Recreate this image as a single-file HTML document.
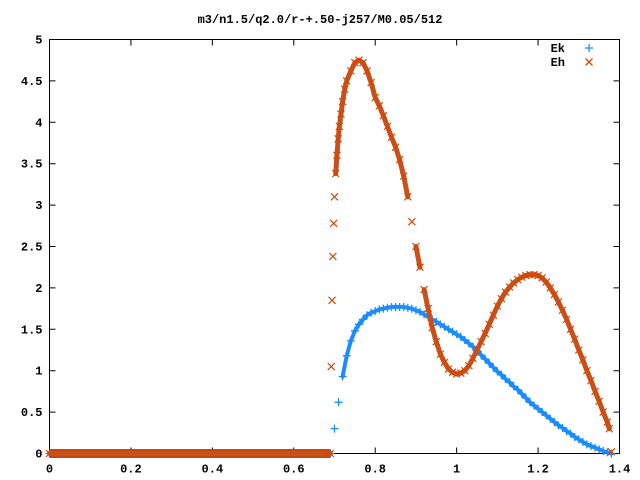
<!DOCTYPE html>
<html><head><meta charset="utf-8"><style>
html,body{margin:0;padding:0;background:#fff;}
svg{display:block;}
text{font-family:"Liberation Mono",monospace;font-size:12px;font-weight:bold;fill:#000;}
</style></head><body>
<svg id="chart" width="640" height="480" xmlns="http://www.w3.org/2000/svg">
<rect width="640" height="480" fill="#fff"/>
<text x="320" y="23" text-anchor="middle">m3/n1.5/q2.0/r-+.50-j257/M0.05/512</text>
<g id="axes"></g>
<g id="series"></g>
<g>
<text x="565" y="52" text-anchor="end">Ek</text>
<text x="565" y="66" text-anchor="end">Eh</text>
<path d="M585 48h8M589 44v8" stroke="#1a8cff" stroke-width="1.3"/>
<path d="M585.5 58.5l7 7M592.5 58.5l-7 7" stroke="#d04a0a" stroke-width="1.3"/>
</g>
</svg>
<script>
const xTicks = [0, 0.2, 0.4, 0.6, 0.8, 1, 1.2, 1.4];
const xTickLabels = ["0", "0.2", "0.4", "0.6", "0.8", "1", "1.2", "1.4"];
const yTicks = [0, 0.5, 1, 1.5, 2, 2.5, 3, 3.5, 4, 4.5, 5];
const yTickLabels = ["0", "0.5", "1", "1.5", "2", "2.5", "3", "3.5", "4", "4.5", "5"];
const ekX = [0,0.68,0.69,0.70,0.71,0.72,0.73,0.74,0.75,0.76,0.77,0.78,0.79,0.80,0.81,0.82,0.83,0.84,0.85,0.86,0.87,0.88,0.89,0.90,0.91,0.92,0.93,0.94,0.95,0.96,0.97,0.98,0.99,1.00,1.01,1.02,1.03,1.04,1.05,1.06,1.07,1.08,1.09,1.10,1.11,1.12,1.13,1.14,1.15,1.16,1.17,1.18,1.19,1.20,1.21,1.22,1.23,1.24,1.25,1.26,1.27,1.28,1.29,1.30,1.31,1.32,1.33,1.34,1.35,1.36,1.37,1.38];
const ekY = [0,0,0,0.3,0.62,0.93,1.18,1.36,1.48,1.56,1.62,1.67,1.7,1.72,1.74,1.75,1.76,1.77,1.77,1.77,1.77,1.76,1.75,1.73,1.71,1.68,1.65,1.62,1.59,1.56,1.53,1.5,1.47,1.44,1.41,1.37,1.33,1.29,1.24,1.19,1.14,1.09,1.04,0.99,0.95,0.9,0.86,0.81,0.77,0.72,0.67,0.62,0.58,0.54,0.5,0.46,0.42,0.38,0.34,0.31,0.27,0.24,0.2,0.17,0.14,0.11,0.09,0.07,0.05,0.03,0.015,0];
const ehX = [0,0.68,0.69,0.692,0.694,0.696,0.698,0.700,0.703,0.706,0.709,0.712,0.716,0.72,0.725,0.73,0.74,0.75,0.76,0.77,0.78,0.79,0.80,0.81,0.82,0.83,0.84,0.85,0.86,0.87,0.88,0.89,0.90,0.91,0.92,0.93,0.94,0.95,0.96,0.97,0.98,0.99,1.00,1.01,1.02,1.03,1.04,1.05,1.06,1.07,1.08,1.09,1.10,1.11,1.12,1.13,1.14,1.15,1.16,1.17,1.18,1.19,1.20,1.21,1.22,1.23,1.24,1.25,1.26,1.27,1.28,1.29,1.30,1.31,1.32,1.33,1.34,1.35,1.36,1.37,1.375,1.38];
const ehY = [0,0,0,1.05,1.85,2.38,2.78,3.1,3.38,3.6,3.8,3.95,4.1,4.25,4.4,4.5,4.62,4.72,4.75,4.72,4.62,4.48,4.3,4.2,4.08,3.95,3.82,3.7,3.55,3.35,3.1,2.8,2.5,2.25,1.98,1.75,1.52,1.35,1.2,1.1,1.02,0.98,0.96,0.97,1.0,1.06,1.15,1.25,1.35,1.45,1.56,1.67,1.78,1.87,1.95,2.01,2.06,2.1,2.13,2.15,2.16,2.16,2.15,2.12,2.07,2.0,1.92,1.83,1.73,1.62,1.5,1.38,1.25,1.13,1.0,0.88,0.75,0.63,0.5,0.38,0.3,0.02];

const L=49.5,R=619.5,T=39.5,B=453.5,X0=0,X1=1.4,Y0=0,Y1=5;
function sx(v){return L+(v-X0)/(X1-X0)*(R-L);}
function sy(v){return B-(v-Y0)/(Y1-Y0)*(B-T);}
const NS="http://www.w3.org/2000/svg";
function mk(tag,attrs,parent){const e=document.createElementNS(NS,tag);for(const k in attrs)e.setAttribute(k,attrs[k]);parent.appendChild(e);return e;}
const axes=document.getElementById('axes');
const frame=mk('rect',{x:L,y:T,width:R-L,height:B-T,fill:'none',stroke:'#000','stroke-width':1},axes);


xTicks.forEach((v,i)=>{
  const x=sx(v);
  const t=mk('path',{d:`M${x} ${B}v-6M${x} ${T}v6`,stroke:'#000','stroke-width':1},axes);
  
  
  const lb=mk('text',{x:x,y:B+19,'text-anchor':'middle'},axes);
  lb.textContent=xTickLabels[i];
  
  
});
yTicks.forEach((v,i)=>{
  const y=sy(v);
  const t=mk('path',{d:`M${L} ${y}h6M${R} ${y}h-6`,stroke:'#000','stroke-width':1},axes);
  
  
  const lb=mk('text',{x:L-7,y:y+4,'text-anchor':'end'},axes);
  lb.textContent=yTickLabels[i];
  
  
});
const g=document.getElementById('series');
function band(xs,ys,color,w,name){
  // connect only consecutive points that are close in value (dense marker band)
  let d='';
  for(let i=1;i<xs.length;i++){
    if(Math.abs(ys[i]-ys[i-1])>0.26) continue;
    d+=`M${sx(xs[i-1]).toFixed(1)} ${sy(ys[i-1]).toFixed(1)}L${sx(xs[i]).toFixed(1)} ${sy(ys[i]).toFixed(1)}`;
  }
  const p=mk('path',{d:d,fill:'none',stroke:color,'stroke-width':w,'stroke-linecap':'round','stroke-dasharray':'2 1'},g);
  
  
}
function zeroBand(xs,ys,color,w,name){
  let i=0;while(i<xs.length&&ys[i]===0)i++;
  const p=mk('path',{d:`M${sx(xs[0])} ${sy(0)}H${sx(xs[i-1])}`,stroke:color,'stroke-width':w},g);
  
  
}
zeroBand(ekX,ekY,'#1a8cff',8,'ek-zero-band');
band(ekX,ekY,'#1a8cff',4,'ek-band');
ekX.forEach((x,i)=>{
  const cx=sx(x),cy=sy(ekY[i]);
  const m=mk('path',{d:`M${cx-4} ${cy}h8M${cx} ${cy-4}v8`,stroke:'#1a8cff','stroke-width':1.3},g);
  
  
});
zeroBand(ehX,ehY,'#c4470c',9,'eh-zero-band');
band(ehX,ehY,'#c9501a',5,'eh-band');
ehX.forEach((x,i)=>{
  const cx=sx(x),cy=sy(ehY[i]);
  const m=mk('path',{d:`M${cx-3.5} ${cy-3.5}l7 7M${cx+3.5} ${cy-3.5}l-7 7`,stroke:'#d04a0a','stroke-width':1.2},g);
  
  
});
</script>
</body></html>
